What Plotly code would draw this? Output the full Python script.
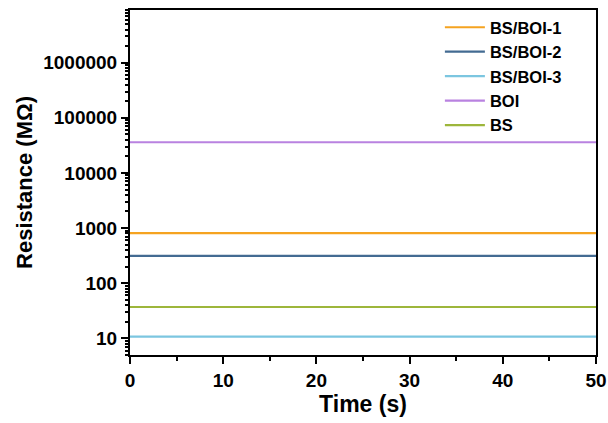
import plotly.graph_objects as go

time_s = [0, 50]
series_names = ["BS/BOI-1", "BS/BOI-2", "BS/BOI-3", "BOI", "BS"]
bs_boi_1 = [810, 810]
bs_boi_2 = [314, 314]
bs_boi_3 = [10.7, 10.7]
boi = [36000, 36000]
bs = [37, 37]
series_values = [bs_boi_1, bs_boi_2, bs_boi_3, boi, bs]
colors = ["#F5A320", "#436B92", "#7CC6E0", "#B982E0", "#9DB63B"]

y_major_ticks = [10, 100, 1000, 10000, 100000, 1000000]
y_minor_ticks = [m * 10 ** e for e in range(0, 7) for m in range(2, 10)]

fig = go.Figure()
for name, vals, c in zip(series_names, series_values, colors):
    fig.add_trace(go.Scatter(x=time_s, y=vals, mode="lines", name=name,
                             line=dict(color=c, width=2.2)))

font_fam = "Liberation Sans, Arial, sans-serif"
yrange = [0.697, 6.956]
fig.update_layout(
    width=608, height=423,
    margin=dict(l=130, r=12, t=10, b=68, autoexpand=False),
    paper_bgcolor="white", plot_bgcolor="white",
    font=dict(family=font_fam, color="black"),
    showlegend=True,
    legend=dict(x=0.665, y=1.0, xanchor="left", yanchor="top",
                bgcolor="rgba(0,0,0,0)", borderwidth=0,
                font=dict(size=16.5, family=font_fam, weight="bold"),
                tracegroupgap=0, itemwidth=40),
)
fig.update_xaxes(
    range=[0, 50], dtick=10, tick0=0, automargin=False,
    showline=True, linecolor="black", linewidth=2, mirror=True,
    ticks="outside", ticklen=7, tickwidth=2, tickcolor="black",
    minor=dict(ticks="outside", dtick=5, ticklen=4, tickwidth=1.5, tickcolor="black", showgrid=False),
    showgrid=False, zeroline=False,
    tickfont=dict(size=19, family=font_fam, weight="bold"),
    title=dict(text="Time (s)", font=dict(size=23, family=font_fam, weight="bold"), standoff=6),
)
fig.update_yaxes(
    type="log", range=yrange, tickmode="array", tickvals=y_major_ticks, tickformat="d",
    automargin=False,
    showline=True, linecolor="black", linewidth=2, mirror=True,
    ticks="outside", ticklen=7, tickwidth=2, tickcolor="black",
    minor=dict(ticks="outside", tickmode="array", tickvals=y_minor_ticks, ticklen=3.5,
               tickwidth=1.5, tickcolor="black", showgrid=False),
    showgrid=False, zeroline=False,
    tickfont=dict(size=19, family=font_fam, weight="bold"),
    title=dict(text="Resistance (MΩ)", font=dict(size=22, family=font_fam, weight="bold"), standoff=5),
)
fig.write_html("out.html")
